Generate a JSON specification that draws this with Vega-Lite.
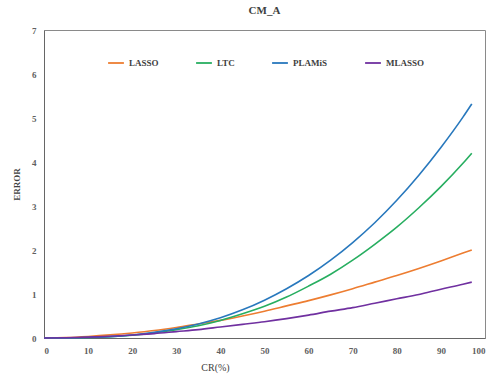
{
  "$schema": "https://vega.github.io/schema/vega-lite/v6.json",
  "width": 441,
  "height": 308,
  "autosize": {"type": "none"},
  "padding": {"left": 44, "top": 30, "right": 11, "bottom": 38},
  "background": "white",
  "title": {"text": "CM_A", "font": "'Liberation Serif', 'DejaVu Serif', serif", "fontSize": 11, "fontWeight": "bold", "color": "#404040", "offset": 10},
  "config": {
    "view": {"stroke": "#8a8a8a", "strokeWidth": 1},
    "axis": {"grid": false, "ticks": false, "labelFont": "'Liberation Serif', 'DejaVu Serif', serif", "labelFontWeight": "bold", "labelFontSize": 9, "labelColor": "#606060", "titleFont": "'Liberation Serif', 'DejaVu Serif', serif", "titleFontSize": 9, "titleColor": "#404040", "domainColor": "#666666"}
  },
  "datasets": {
    "d": [
      {"cr": 0, "error": 0, "method": "LASSO"},
      {"cr": 5, "error": 0.01, "method": "LASSO"},
      {"cr": 10, "error": 0.035, "method": "LASSO"},
      {"cr": 15, "error": 0.07, "method": "LASSO"},
      {"cr": 20, "error": 0.115, "method": "LASSO"},
      {"cr": 25, "error": 0.17, "method": "LASSO"},
      {"cr": 30, "error": 0.24, "method": "LASSO"},
      {"cr": 35, "error": 0.32, "method": "LASSO"},
      {"cr": 40, "error": 0.4, "method": "LASSO"},
      {"cr": 45, "error": 0.5, "method": "LASSO"},
      {"cr": 50, "error": 0.61, "method": "LASSO"},
      {"cr": 55, "error": 0.73, "method": "LASSO"},
      {"cr": 60, "error": 0.85, "method": "LASSO"},
      {"cr": 65, "error": 0.98, "method": "LASSO"},
      {"cr": 70, "error": 1.12, "method": "LASSO"},
      {"cr": 75, "error": 1.27, "method": "LASSO"},
      {"cr": 80, "error": 1.42, "method": "LASSO"},
      {"cr": 85, "error": 1.58, "method": "LASSO"},
      {"cr": 90, "error": 1.75, "method": "LASSO"},
      {"cr": 95, "error": 1.93, "method": "LASSO"},
      {"cr": 97, "error": 2.0, "method": "LASSO"},
      {"cr": 0, "error": 0, "method": "LTC"},
      {"cr": 5, "error": 0.002, "method": "LTC"},
      {"cr": 10, "error": 0.01, "method": "LTC"},
      {"cr": 15, "error": 0.03, "method": "LTC"},
      {"cr": 20, "error": 0.064, "method": "LTC"},
      {"cr": 25, "error": 0.116, "method": "LTC"},
      {"cr": 30, "error": 0.19, "method": "LTC"},
      {"cr": 35, "error": 0.28, "method": "LTC"},
      {"cr": 40, "error": 0.4, "method": "LTC"},
      {"cr": 45, "error": 0.55, "method": "LTC"},
      {"cr": 50, "error": 0.72, "method": "LTC"},
      {"cr": 55, "error": 0.93, "method": "LTC"},
      {"cr": 60, "error": 1.18, "method": "LTC"},
      {"cr": 65, "error": 1.45, "method": "LTC"},
      {"cr": 70, "error": 1.77, "method": "LTC"},
      {"cr": 75, "error": 2.13, "method": "LTC"},
      {"cr": 80, "error": 2.52, "method": "LTC"},
      {"cr": 85, "error": 2.96, "method": "LTC"},
      {"cr": 90, "error": 3.44, "method": "LTC"},
      {"cr": 95, "error": 3.97, "method": "LTC"},
      {"cr": 97, "error": 4.2, "method": "LTC"},
      {"cr": 0, "error": 0, "method": "PLAMiS"},
      {"cr": 5, "error": 0.002, "method": "PLAMiS"},
      {"cr": 10, "error": 0.01, "method": "PLAMiS"},
      {"cr": 15, "error": 0.031, "method": "PLAMiS"},
      {"cr": 20, "error": 0.069, "method": "PLAMiS"},
      {"cr": 25, "error": 0.128, "method": "PLAMiS"},
      {"cr": 30, "error": 0.21, "method": "PLAMiS"},
      {"cr": 35, "error": 0.32, "method": "PLAMiS"},
      {"cr": 40, "error": 0.46, "method": "PLAMiS"},
      {"cr": 45, "error": 0.64, "method": "PLAMiS"},
      {"cr": 50, "error": 0.86, "method": "PLAMiS"},
      {"cr": 55, "error": 1.12, "method": "PLAMiS"},
      {"cr": 60, "error": 1.42, "method": "PLAMiS"},
      {"cr": 65, "error": 1.77, "method": "PLAMiS"},
      {"cr": 70, "error": 2.17, "method": "PLAMiS"},
      {"cr": 75, "error": 2.62, "method": "PLAMiS"},
      {"cr": 80, "error": 3.13, "method": "PLAMiS"},
      {"cr": 85, "error": 3.7, "method": "PLAMiS"},
      {"cr": 90, "error": 4.33, "method": "PLAMiS"},
      {"cr": 95, "error": 5.02, "method": "PLAMiS"},
      {"cr": 97, "error": 5.32, "method": "PLAMiS"},
      {"cr": 0, "error": 0, "method": "MLASSO"},
      {"cr": 5, "error": 0.005, "method": "MLASSO"},
      {"cr": 10, "error": 0.019, "method": "MLASSO"},
      {"cr": 15, "error": 0.04, "method": "MLASSO"},
      {"cr": 20, "error": 0.068, "method": "MLASSO"},
      {"cr": 25, "error": 0.1, "method": "MLASSO"},
      {"cr": 30, "error": 0.145, "method": "MLASSO"},
      {"cr": 35, "error": 0.19, "method": "MLASSO"},
      {"cr": 40, "error": 0.25, "method": "MLASSO"},
      {"cr": 45, "error": 0.31, "method": "MLASSO"},
      {"cr": 50, "error": 0.37, "method": "MLASSO"},
      {"cr": 55, "error": 0.44, "method": "MLASSO"},
      {"cr": 60, "error": 0.52, "method": "MLASSO"},
      {"cr": 65, "error": 0.61, "method": "MLASSO"},
      {"cr": 70, "error": 0.69, "method": "MLASSO"},
      {"cr": 75, "error": 0.79, "method": "MLASSO"},
      {"cr": 80, "error": 0.89, "method": "MLASSO"},
      {"cr": 85, "error": 0.99, "method": "MLASSO"},
      {"cr": 90, "error": 1.11, "method": "MLASSO"},
      {"cr": 95, "error": 1.22, "method": "MLASSO"},
      {"cr": 97, "error": 1.27, "method": "MLASSO"}
    ]
  },
  "data": {"name": "d"},
  "mark": {"type": "line", "strokeWidth": 1.6, "interpolate": "monotone"},
  "encoding": {
    "x": {"field": "cr", "type": "quantitative", "scale": {"domain": [0, 100], "nice": false},
      "axis": {"title": "CR(%)", "values": [0,10,20,30,40,50,60,70,80,90,100], "labelPadding": 8, "titleFontWeight": "normal", "titleFontSize": 10, "titleX": 171, "titleY": 24, "titleBaseline": "top", "titleAnchor": "middle", "titleAlign": "center"}},
    "y": {"field": "error", "type": "quantitative", "scale": {"domain": [0, 7], "nice": false},
      "axis": {"title": "ERROR", "values": [0,1,2,3,4,5,6,7], "labelPadding": 8, "titleFontWeight": "bold", "titlePadding": 10}},
    "color": {"field": "method", "type": "nominal",
      "scale": {"domain": ["LASSO", "LTC", "PLAMiS", "MLASSO"], "range": ["#ED7D31", "#27AE60", "#2878BD", "#7030A0"]},
      "legend": {"title": null, "orient": "none", "legendX": 63, "legendY": 24, "direction": "horizontal", "columns": 4, "gridAlign": "none", "columnPadding": 33, "symbolType": "stroke", "symbolSize": 250, "symbolStrokeWidth": 1.8, "labelFont": "'Liberation Serif', 'DejaVu Serif', serif", "labelFontWeight": "bold", "labelFontSize": 9, "labelColor": "#404040", "labelOffset": 4}}
  }
}
